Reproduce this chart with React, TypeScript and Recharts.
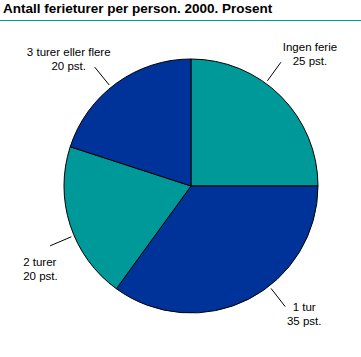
import { PieChart, Pie, Cell } from 'recharts'

const categories = ['Ingen ferie', '1 tur', '2 turer', '3 turer eller flere']
const shares = [25, 35, 20, 20]
const valueLabels = ['25 pst.', '35 pst.', '20 pst.', '20 pst.']

const TEAL = '#009999'
const BLUE = '#003399'
const sliceColors = [TEAL, BLUE, TEAL, BLUE]

const data = categories.map((name, i) => ({ name, value: shares[i], label: valueLabels[i] }))

// where each leader line sits on the rim, and where its text goes from the line's end
const labelLayout = [
    { angle: 54, dx: 29, dy: -15, anchor: 'middle' },
    { angle: -52, dx: 19, dy: 0, anchor: 'middle' },
    { angle: -157, dx: -27, dy: 16, anchor: 'start' },
    { angle: 129, dx: -26, dy: -15, anchor: 'middle' },
]

const RADIAN = Math.PI / 180
const FONT = "'Liberation Sans', Arial, sans-serif"

function renderLabel(props: any) {
    const { cx, cy, outerRadius, index } = props
    const layout = labelLayout[index]
    const cos = Math.cos(layout.angle * RADIAN)
    const sin = Math.sin(layout.angle * RADIAN)
    const x1 = cx + (outerRadius + 3) * cos
    const y1 = cy - (outerRadius + 3) * sin
    const x2 = cx + (outerRadius + 26) * cos
    const y2 = cy - (outerRadius + 26) * sin
    const tx = x2 + layout.dx
    const ty = y2 + layout.dy
    return (
        <g key={`label-${index}`}>
            <line x1={x1} y1={y1} x2={x2} y2={y2} stroke="#000" strokeWidth={1} />
            <text x={tx} y={ty} textAnchor={layout.anchor} dominantBaseline="central" fontSize={11.5} fontFamily={FONT} fill="#000">
                {data[index].name}
            </text>
            <text x={tx} y={ty + 14} textAnchor={layout.anchor} dominantBaseline="central" fontSize={11.5} fontFamily={FONT} fill="#000">
                {data[index].label}
            </text>
        </g>
    )
}

export default function App() {
    return (
        <div style={{ position: 'absolute', left: 0, top: 0, width: 361, height: 357, background: '#fff' }}>
            {/* Title */}
            <div
                style={{
                    position: 'absolute',
                    left: 3,
                    top: 0,
                    fontFamily: FONT,
                    fontSize: 13.5,
                    fontWeight: 'bold',
                    lineHeight: '17px',
                    color: '#000',
                    whiteSpace: 'nowrap',
                }}
            >
                Antall ferieturer per person. 2000. Prosent
            </div>
            <div style={{ position: 'absolute', left: 0, top: 20, width: 361, height: 1, background: TEAL }} />

            <div style={{ position: 'absolute', left: 0, top: 0 }}>
                <PieChart width={361} height={357} margin={{ top: 0, right: 0, bottom: 0, left: 0 }}>
                    <Pie
                        data={data}
                        dataKey="value"
                        cx={191}
                        cy={186}
                        outerRadius={127}
                        startAngle={90}
                        endAngle={-270}
                        stroke="#000"
                        strokeWidth={1}
                        label={renderLabel}
                        labelLine={false}
                        isAnimationActive={false}
                    >
                        {data.map((entry, index) => (
                            <Cell key={`cell-${index}`} fill={sliceColors[index]} />
                        ))}
                    </Pie>
                </PieChart>
            </div>
        </div>
    )
}
